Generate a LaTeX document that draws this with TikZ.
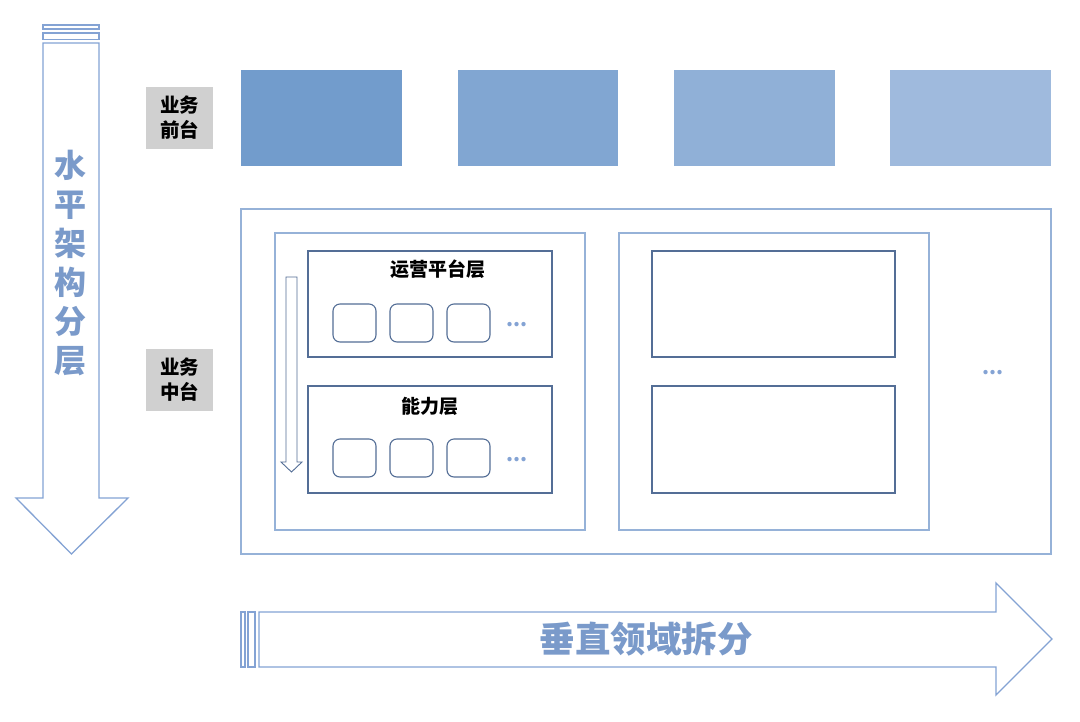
\documentclass[tikz,border=0pt]{standalone}
\usepackage{fontspec}
\setmainfont{Noto Sans CJK SC}
\usetikzlibrary{positioning}
\definecolor{arrowblue}{RGB}{132,163,212}
\definecolor{textblue}{RGB}{122,154,202}
\definecolor{frameblue}{RGB}{150,178,216}
\definecolor{layerblue}{RGB}{84,110,150}
\definecolor{frontA}{RGB}{114,156,204}
\definecolor{frontB}{RGB}{129,166,210}
\definecolor{frontC}{RGB}{144,176,215}
\definecolor{frontD}{RGB}{159,186,221}
\definecolor{tagbg}{RGB}{208,208,208}
\tikzset{
  tag/.style={fill=tagbg,minimum width=67,minimum height=62,align=center,inner sep=0,
    font=\fontsize{19.5}{25}\selectfont\bfseries},
  layertitle/.style={font=\fontsize{19}{22}\selectfont\bfseries},
  unit/.style={draw=layerblue,line width=1.1,rounded corners=7},
  more/.style={text=arrowblue,font=\fontsize{20}{20}\selectfont\bfseries}
}
\begin{document}
\begin{tikzpicture}[x=1pt,y=-1pt]
\useasboundingbox[fill=white] (0,0) rectangle (1080,721);
% vertical arrow
\draw[arrowblue,line width=1.3] (43,25) rectangle (99,29);
\draw[arrowblue,line width=1.3] (43,33) rectangle (99,39.5);
\draw[arrowblue,line width=1.3,line join=miter] (43,43) -- (99,43) -- (99,498) -- (128,498)
  -- (71.5,554) -- (16,498) -- (43,498) -- cycle;
\node[text=textblue,align=center,font=\fontsize{32}{39}\selectfont\bfseries] (vtext) at (70,263)
  {水\\平\\架\\构\\分\\层};
% horizontal arrow
\draw[arrowblue,line width=1.3] (241,612) rectangle (245,667);
\draw[arrowblue,line width=1.3] (248,612) rectangle (255,667);
\draw[arrowblue,line width=1.3,line join=miter] (259,612) -- (996,612) -- (996,583) -- (1052,639)
  -- (996,695) -- (996,667) -- (259,667) -- cycle;
\node[text=textblue,font=\fontsize{35.5}{38}\selectfont\bfseries] (htext) at (646,639) {垂直领域拆分};
% front layer
\node[tag] (front) at (179.5,117.5) {业务\\前台};
\fill[frontA] (241,70) rectangle (402,166);
\fill[frontB] (458,70) rectangle (618,166);
\fill[frontC] (674,70) rectangle (835,166);
\fill[frontD] (890,70) rectangle (1051,166);
% middle layer
\node[tag] (middle) at (179.5,380) {业务\\中台};
\draw[frameblue,line width=1.2] (241,209) rectangle (1051,554);
\draw[frameblue,line width=1.2] (275,233) rectangle (585,530);
\draw[frameblue,line width=1.2] (619,233) rectangle (929,530);
\draw[layerblue,line width=1.1] (308,251) rectangle (552,357);
\node[layertitle] (ops) at (438,269) {运营平台层};
\draw[layerblue,line width=1.1] (308,386) rectangle (552,493);
\node[layertitle] (cap) at (430,406) {能力层};
\foreach \x in {333,390,447} {
  \draw[unit] (\x,304) rectangle ++(43,38);
  \draw[unit] (\x,439) rectangle ++(43,38);
}
\node[more] (opsmore) at (517,325) {...};
\node[more] (capmore) at (517,460) {...};
\node[more] (domainmore) at (993,373) {...};
\draw[layerblue,line width=1.1] (652,251) rectangle (895,357);
\draw[layerblue,line width=1.1] (652,386) rectangle (895,493);
% small down arrow
\draw[layerblue,line width=0.9,line join=miter] (286,277) -- (297,277) -- (297,462) -- (302,462)
  -- (291.5,472) -- (281,462) -- (286,462) -- cycle;
\end{tikzpicture}
\end{document}
